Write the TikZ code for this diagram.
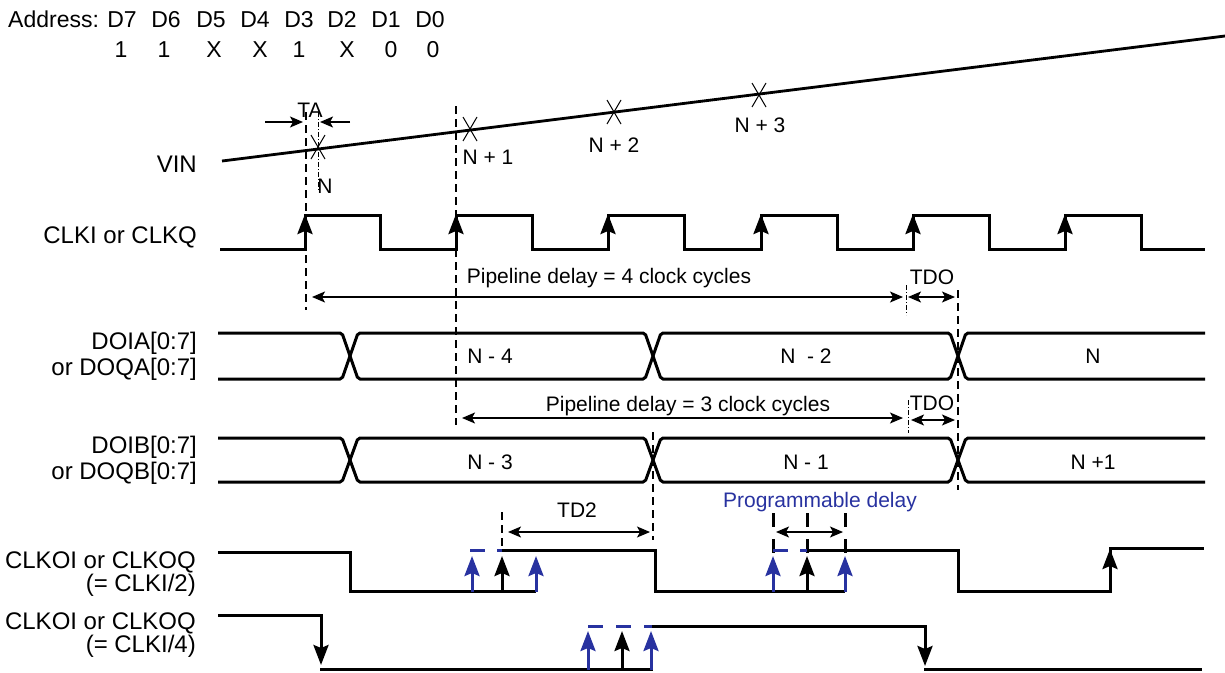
\documentclass[tikz,border=0pt]{standalone}
\usepackage{fontspec}
\setmainfont{Liberation Sans}
\usetikzlibrary{arrows.meta,calc}
\definecolor{pblue}{RGB}{40,50,160}
\begin{document}
\begin{tikzpicture}[x=1pt,y=-1pt,
  txt/.style={font=\fontsize{21}{24}\selectfont, inner sep=0pt, anchor=base},
  hdr/.style={txt, font=\fontsize{23}{26}\selectfont},
  lbl/.style={txt, font=\fontsize{24}{27}\selectfont, anchor=base east},
  sig/.style={line width=3pt, line join=miter, line cap=butt},
  bus/.style={line width=3pt, rounded corners=2pt},
  guide/.style={line width=1.3pt, dash pattern=on 8pt off 5pt},
  dotguide/.style={line width=1pt, dash pattern=on 5pt off 2pt on 1pt off 2pt},
  dimarrow/.style={line width=1.3pt, {Stealth[length=13pt,width=11pt,inset=3pt]}-{Stealth[length=13pt,width=11pt,inset=3pt]}},
  onearrow/.style={line width=1.3pt, -{Stealth[length=13pt,width=11pt,inset=3pt]}},
  edgearrow/.style={line width=3pt, -{Stealth[length=20pt,width=15pt,inset=3pt]}},
  bluearrow/.style={edgearrow, pblue},
  bluedash/.style={line width=3pt, pblue, dash pattern=on 15pt off 12pt},
  thickdash/.style={line width=3pt, dash pattern=on 14pt off 12pt},
  xmark/.style={line width=1pt}
]
\useasboundingbox (0,0) rectangle (1225,672);

% header
\node[hdr, anchor=base west] (addr) at (8,27) {Address:};
\foreach \n/\x in {7/122,6/166,5/211,4/255,3/299,2/342,1/386,0/430}
  \node[hdr] (d\n) at (\x,27) {D\n};
\foreach \v/\x [count=\i] in {1/121,1/164,X/214,X/260,1/299,X/347,0/391,0/433}
  \node[hdr] (v\i) at (\x,57) {\v};

% left labels
\node[lbl] (vin) at (197,172) {VIN};
\node[lbl] (clki) at (197,243) {CLKI or CLKQ};
\node[lbl] (doia) at (197,349) {DOIA[0:7]};
\node[lbl] (doqa) at (197,375) {or DOQA[0:7]};
\node[lbl] (doib) at (197,453) {DOIB[0:7]};
\node[lbl] (doqb) at (197,479) {or DOQB[0:7]};
\node[lbl] (clko2a) at (196,568) {CLKOI or CLKOQ};
\node[lbl] (clko2b) at (196,591) {(= CLKI/2)};
\node[lbl] (clko4a) at (196,629) {CLKOI or CLKOQ};
\node[lbl] (clko4b) at (196,652) {(= CLKI/4)};

% VIN ramp
\coordinate (vs) at (222,161);
\coordinate (ve) at (1225,36);
\draw[line width=2.8pt] (vs) -- (ve);
\foreach \x/\y/\nm in {318/147/xa,470/129/xb,614/112/xc,759/95/xd}{
  \coordinate (\nm) at (\x,\y);
  \draw[xmark] ($(\nm)+(-7,-12)$) -- ($(\nm)+(7,12)$);
  \draw[xmark] ($(\nm)+(7,-12)$) -- ($(\nm)+(-7,12)$);
}
\node[txt] (nN) at (325,193) {N};
\node[txt] (nN1) at (488,164) {N + 1};
\node[txt] (nN2) at (614,152) {N + 2};
\node[txt] (nN3) at (760,132) {N + 3};

% TA
\node[txt] (ta) at (310,117) {TA};
\coordinate (ta1) at (265,122); \coordinate (ta2) at (303,122);
\coordinate (ta3) at (350,122); \coordinate (ta4) at (320,122);
\draw[onearrow] (ta1) -- (ta2);
\draw[onearrow] (ta3) -- (ta4);
\draw[guide] (306,112) -- (306,310);
\draw[dotguide] (318,112) -- (318,190);
\draw[guide] (456,106) -- (456,425);

% CLK
\draw[sig] (220,249) -- (305,249) -- (305,215) -- (380,215) -- (380,249)
  -- (456,249) -- (456,215) -- (532,215) -- (532,249)
  -- (608,249) -- (608,215) -- (684,215) -- (684,249)
  -- (761,249) -- (761,215) -- (837,215) -- (837,249)
  -- (913,249) -- (913,215) -- (989,215) -- (989,249)
  -- (1065,249) -- (1065,215) -- (1141,215) -- (1141,249) -- (1205,249);
\foreach \x in {305,456,608,761,913,1065}
  \draw[edgearrow] (\x,250) -- (\x,214);

% pipeline 4
\node[txt] (pd4) at (609,283) {Pipeline delay = 4 clock cycles};
\draw[dimarrow] (312,297) -- (903,297);
\draw[dotguide] (906,285) -- (906,315);
\node[txt] (tdo1) at (932,284) {TDO};
\draw[dimarrow] (908,297) -- (955,297);
\draw[guide] (958,290) -- (958,490);

% DOIA bus
\draw[bus] (218,333) -- (342,333) -- (358,379) -- (645,379) -- (661,333) -- (950,333) -- (966,379) -- (1205,379);
\draw[bus] (218,379) -- (342,379) -- (358,333) -- (645,333) -- (661,379) -- (950,379) -- (966,333) -- (1205,333);
\node[txt] (a1) at (490,363) {N - 4};
\node[txt] (a2) at (806,363) {N \ - 2};
\node[txt] (a3) at (1093,363) {N};

% pipeline 3
\node[txt] (pd3) at (688,411) {Pipeline delay = 3 clock cycles};
\draw[dimarrow] (462,418) -- (903,418);
\draw[dotguide] (908,400) -- (908,433);
\node[txt] (tdo2) at (932,410) {TDO};
\draw[dimarrow] (911,420) -- (955,420);

% DOIB bus
\draw[bus] (218,438) -- (342,438) -- (358,482) -- (645,482) -- (661,438) -- (950,438) -- (966,482) -- (1205,482);
\draw[bus] (218,482) -- (342,482) -- (358,438) -- (645,438) -- (661,482) -- (950,482) -- (966,438) -- (1205,438);
\node[txt] (b1) at (490,469) {N - 3};
\node[txt] (b2) at (806,469) {N - 1};
\node[txt] (b3) at (1093,469) {N +1};
\draw[guide] (653,432) -- (653,540);

% TD2
\node[txt] (td2) at (577,517) {TD2};
\draw[guide] (502,512) -- (502,550);
\draw[dimarrow] (508,532) -- (650,532);

% Programmable delay
\node[txt, text=pblue] (prog) at (820,507) {Programmable delay};
\foreach \x in {773,807,845} \draw[thickdash] (\x,513) -- (\x,553);
\draw[dimarrow] (776,532) -- (843,532);

% CLKO /2
\draw[sig] (218,552) -- (350,552) -- (350,591) -- (536,591);
\draw[sig] (502,550) -- (655,550) -- (655,591) -- (845,591);
\draw[sig] (807,550) -- (958,550) -- (958,591) -- (1110,591) -- (1110,548) -- (1204,548);
\draw[bluedash] (470,550) -- (502,550);
\draw[bluedash] (773,550) -- (807,550);
\draw[bluearrow] (472,592) -- (472,556);
\draw[edgearrow] (502,592) -- (502,556);
\draw[bluearrow] (536,592) -- (536,556);
\draw[bluearrow] (773,592) -- (773,556);
\draw[edgearrow] (807,592) -- (807,556);
\draw[bluearrow] (845,592) -- (845,556);
\draw[edgearrow] (1110,592) -- (1110,549);

% CLKO /4
\draw[sig] (218,615) -- (321,615) -- (321,640);
\draw[edgearrow] (321,630) -- (321,665);
\draw[sig] (320,669) -- (653,669);
\draw[sig] (652,626) -- (925,626) -- (925,640);
\draw[edgearrow] (925,635) -- (925,666);
\draw[sig] (924,669) -- (1202,669);
\draw[bluedash, dash pattern=on 15pt off 13pt] (588,626) -- (652,626);
\draw[bluearrow] (588,670) -- (588,631);
\draw[edgearrow] (622,670) -- (622,631);
\draw[bluearrow] (651,670) -- (651,631);
\end{tikzpicture}
\end{document}
